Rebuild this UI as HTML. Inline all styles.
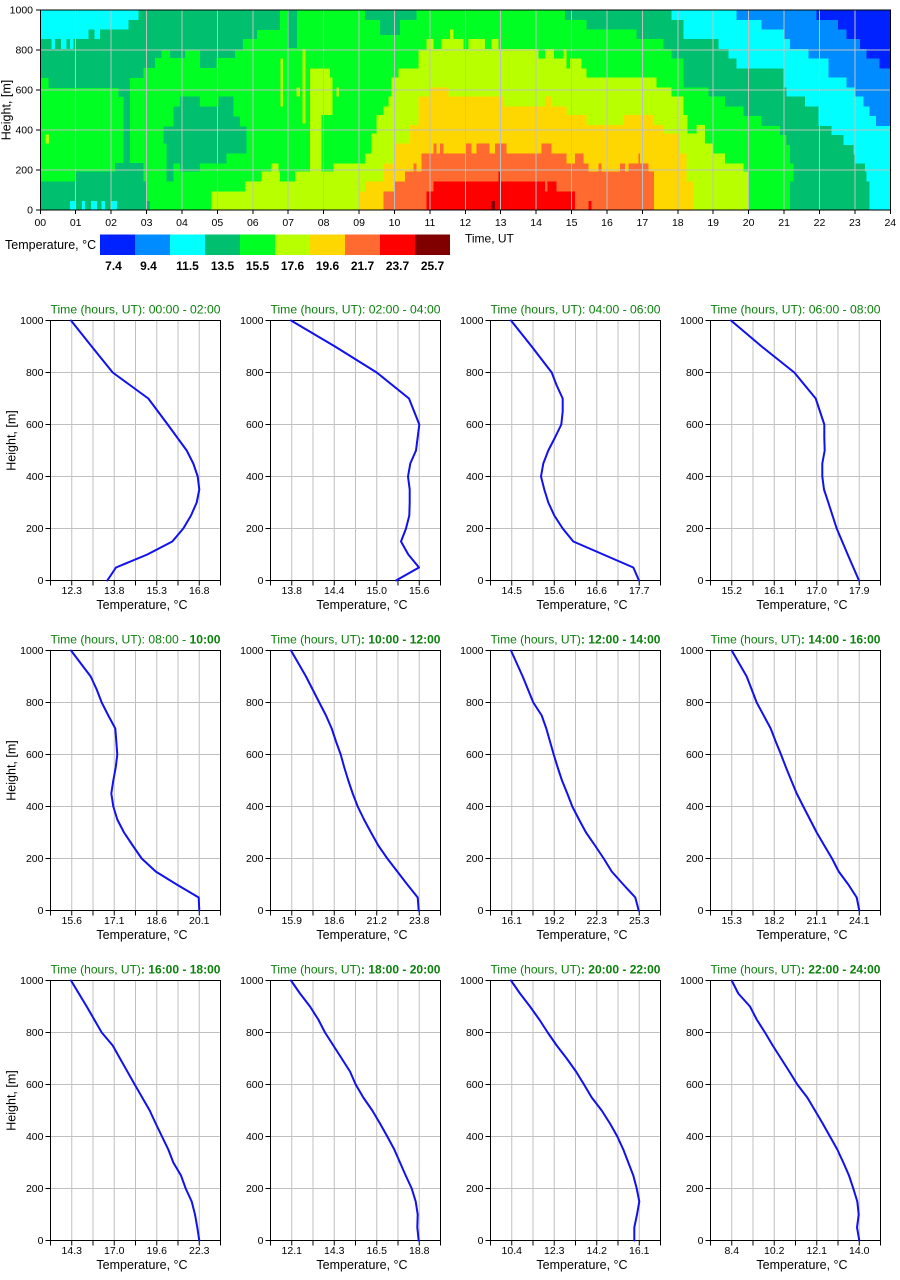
<!DOCTYPE html>
<html><head><meta charset="utf-8"><style>
html,body{margin:0;padding:0;background:#fff;}
svg{display:block;font-family:"Liberation Sans",Arial,sans-serif;}
</style></head><body>
<svg width="900" height="1280" viewBox="0 0 900 1280" xmlns="http://www.w3.org/2000/svg">
<rect width="900" height="1280" fill="#fff"/>
<defs>
<g id="fr">
<path d="M21.25 0V260M42.5 0V260M63.75 0V260M85 0V260M106.25 0V260M127.5 0V260M148.75 0V260M0 52H170M0 104H170M0 156H170M0 208H170" stroke="#c0c0c0" stroke-width="1" fill="none"/>
<rect x="0" y="0" width="170" height="260" fill="none" stroke="#000" stroke-width="1"/>
<path d="M0 260v5M21.25 260v5M42.5 260v5M63.75 260v5M85 260v5M106.25 260v5M127.5 260v5M148.75 260v5M170 260v5M-5 0H0M-5 52H0M-5 104H0M-5 156H0M-5 208H0M-5 260H0" stroke="#000" stroke-width="1" fill="none"/>
</g>
</defs>

<!-- ===== HEATMAP ===== -->
<g shape-rendering="crispEdges">
<rect x="40.3" y="10" width="850" height="200" fill="#00ff22"/>
<!-- teal -->
<g fill="#00c070">
<polygon points="40.3,10 280,10 280,30 257,30 257,39 243,39 243,50 235,50 235,58 216.7,58 216.7,68 200,68 200,50 185,50 185,58 170,58 170,50 161.7,50 161.7,58 155,58 155,68 143.3,68 143.3,78 130,78 130,163 123.3,163 123.3,97 118.3,97 118.3,88 48.3,88 48.3,78 40.3,78"/>
<polygon points="40.3,181.7 75,181.7 75,171.7 115,171.7 115,163 143.3,163 143.3,181.7 146.7,181.7 146.7,201 150,201 150,210 40.3,210"/>
<polygon points="163.3,126.7 173.3,126.7 173.3,106.7 180,106.7 180,96.7 200,96.7 200,106.7 218.3,106.7 218.3,96.7 233.3,96.7 233.3,116.7 240,116.7 240,126.7 246.7,126.7 246.7,153.3 226.7,153.3 226.7,163.3 200,163.3 200,171.7 180,171.7 180,163.3 173.3,163.3 173.3,181.7 166.7,181.7 166.7,143.3 163.3,143.3"/>
<rect x="287" y="10" width="10" height="38"/>
<rect x="365" y="10" width="51.7" height="10"/>
<rect x="380" y="20" width="20" height="15"/>
<polygon points="565,10 890,10 890,210 790,210 790,181.7 793.3,181.7 793.3,163.3 790,163.3 790,145 786.7,145 786.7,135 780,135 780,126 761.7,126 761.7,116 743.3,116 743.3,106.7 725,106.7 725,96.7 708.3,96.7 708.3,87.7 683.3,87.7 683.3,58.3 671.7,58.3 671.7,49 663.3,49 663.3,39 636.7,39 636.7,29.7 586.7,29.7 586.7,20 565,20"/>
</g>
<!-- cyan -->
<g fill="#00ffff">
<polygon points="40.3,10 138.3,10 138.3,20 128.3,20 128.3,29.7 88.3,29.7 88.3,39 40.3,39"/>
<rect x="51.7" y="39" width="3.3" height="10"/>
<rect x="61" y="39" width="5.7" height="10"/>
<rect x="70" y="39" width="3.3" height="10"/>
<rect x="94.3" y="29.7" width="5.7" height="9.3"/>
<rect x="70" y="201" width="5" height="9"/>
<rect x="82" y="201" width="3" height="9"/>
<rect x="91" y="201" width="6" height="9"/>
<rect x="101.7" y="201" width="3.3" height="9"/>
<rect x="111" y="201" width="6" height="9"/>
<polygon points="671.7,10 890,10 890,210 869.3,210 869.3,181.7 866.7,181.7 866.7,171.7 865,171.7 865,163.3 855,163.3 855,154.3 853.3,154.3 853.3,145 843.3,145 843.3,135 831.7,135 831.7,126 818.3,126 818.3,106.7 805,106.7 805,96.7 786.7,96.7 786.7,87.7 783.3,87.7 783.3,68.3 736.7,68.3 736.7,58.3 728.3,58.3 728.3,49 718.3,49 718.3,39 683.3,39 683.3,20 671.7,20"/>
</g>
<polygon fill="#008cff" points="736.7,10 890,10 890,126 876,126 876,116 869.3,116 869.3,106.7 863.3,106.7 863.3,96.7 855,96.7 855,87.7 846.7,87.7 846.7,77.7 828.3,77.7 828.3,58.3 808.3,58.3 808.3,49 790,49 790,39 783.3,39 783.3,29.7 761.7,29.7 761.7,20 736.7,20"/>
<polygon fill="#0022ff" points="816.7,10 890,10 890,68.3 879.3,68.3 879.3,58.3 866.7,58.3 866.7,49 860,49 860,39 846.7,39 846.7,29.7 838,29.7 838,20 816.7,20"/>
<!-- yellow-green -->
<g fill="#b8ff00">
<polygon points="211.7,210 211.7,191.7 245,191.7 245,181.7 261.7,181.7 261.7,171.7 271.7,171.7 271.7,163.3 278.3,163.3 278.3,171.7 280,171.7 280,181.7 295,181.7 295,171.7 333.3,171.7 333.3,163.3 365,163.3 365,153.3 371.7,153.3 371.7,133.3 376.7,133.3 376.7,115 383.3,115 383.3,106.7 388.3,106.7 388.3,96.7 391.7,96.7 391.7,77.7 398.3,77.7 398.3,68.3 418.3,68.3 418.3,50 426.7,50 426.7,39 433.3,39 433.3,49 441.7,49 441.7,39 463.3,39 463.3,49 468.3,49 468.3,39 485,39 485,49 491.7,49 491.7,39 498.3,39 498.3,49 538.3,49 538.3,58.3 545,58.3 545,49 554,49 554,58.3 563.3,58.3 563.3,49 566.7,49 566.7,68.3 570,68.3 570,58.3 581.7,58.3 581.7,68.3 586.7,68.3 586.7,77.7 656.7,77.7 656.7,87.7 671.7,87.7 671.7,96.7 683.3,96.7 683.3,115 687.3,115 687.3,133.3 696.7,133.3 696.7,125 705,125 705,143.3 713.3,143.3 713.3,153.3 725,153.3 725,163.3 743.3,163.3 743.3,171.7 748.3,171.7 748.3,210"/>
<rect x="310" y="68.3" width="11.7" height="141.7"/>
<rect x="321.7" y="68.3" width="8.3" height="46.7"/>
<rect x="280.5" y="58.3" width="2.5" height="48.4"/>
<rect x="296.7" y="87.7" width="3.3" height="9"/>
<rect x="302.7" y="49" width="2.6" height="74.3"/>
<rect x="330" y="77.7" width="2.7" height="37.3"/>
<rect x="336.7" y="87.7" width="2.3" height="9"/>
<rect x="450" y="29.7" width="3.3" height="9.3"/>
<rect x="45.7" y="134.5" width="3.3" height="8.8"/>
</g>
<polygon fill="#ffd700" points="358.3,210 358.3,191.7 365,191.7 365,181.7 383.3,181.7 383.3,163.3 395,163.3 395,143.3 410,143.3 410,125 418.3,125 418.3,96.7 430,96.7 430,87.7 448.3,87.7 448.3,96.7 503.3,96.7 503.3,106.7 545,106.7 545,96.7 551.7,96.7 551.7,106.7 566.7,106.7 566.7,115 586.7,115 586.7,125 623.3,125 623.3,115 653.3,115 653.3,125 663.3,125 663.3,133.3 680,133.3 680,153.3 686.7,153.3 686.7,181.7 693.3,181.7 693.3,210"/>
<polygon fill="#ff6a30" points="383.3,210 383.3,191.7 395,191.7 395,181.7 405,181.7 405,171.7 413.3,171.7 413.3,163.3 416.7,163.3 416.7,171.7 421.7,171.7 421.7,153.3 433.3,153.3 433.3,143.3 436.7,143.3 436.7,153.3 440,153.3 440,143.3 443.3,143.3 443.3,153.3 465,153.3 465,143.3 471.7,143.3 471.7,153.3 476.7,153.3 476.7,143.3 489.3,143.3 489.3,153.3 495,153.3 495,143.3 506.7,143.3 506.7,153.3 541.7,153.3 541.7,143.3 551.7,143.3 551.7,153.3 566.7,153.3 566.7,163.3 575,163.3 575,153.3 583.3,153.3 583.3,163.3 588.3,163.3 588.3,171.7 598.3,171.7 598.3,163.3 601.7,163.3 601.7,171.7 620,171.7 620,163.3 625,163.3 625,171.7 628.3,171.7 628.3,163.3 638.3,163.3 638.3,153.3 640,153.3 640,163.3 648.3,163.3 648.3,171.7 654,171.7 654,210"/>
<g fill="#ff0000">
<polygon points="426.7,210 426.7,191.7 433.3,191.7 433.3,181.7 498.3,181.7 498.3,171.7 500,171.7 500,181.7 545,181.7 545,191.7 547.7,191.7 547.7,181.7 556.7,181.7 556.7,191.7 575,191.7 575,210"/>
<rect x="588.3" y="201" width="3.3" height="9"/>
</g>
<rect x="491.7" y="201" width="3.3" height="9" fill="#800000"/>
<!-- grid -->
<path d="M75.7 10V210M111.1 10V210M146.6 10V210M182 10V210M217.4 10V210M252.8 10V210M288.2 10V210M323.6 10V210M359.1 10V210M394.5 10V210M429.9 10V210M465.3 10V210M500.7 10V210M536.1 10V210M571.6 10V210M607 10V210M642.4 10V210M677.8 10V210M713.2 10V210M748.6 10V210M784.1 10V210M819.5 10V210M854.9 10V210M40.3 50H890M40.3 90H890M40.3 130H890M40.3 170H890" stroke="#c0c0c0" stroke-width="1" fill="none"/>
<rect x="40.3" y="10" width="850" height="200" fill="none" stroke="#000" stroke-width="1"/>
<path d="M40.3 210v4M75.7 210v4M111.1 210v4M146.6 210v4M182 210v4M217.4 210v4M252.8 210v4M288.2 210v4M323.6 210v4M359.1 210v4M394.5 210v4M429.9 210v4M465.3 210v4M500.7 210v4M536.1 210v4M571.6 210v4M607 210v4M642.4 210v4M677.8 210v4M713.2 210v4M748.6 210v4M784.1 210v4M819.5 210v4M854.9 210v4M890.3 210v4M36 10H40M36 50H40M36 90H40M36 130H40M36 170H40M36 210H40" stroke="#000" stroke-width="1" fill="none"/>
</g>
<g font-size="10.5" fill="#000" text-anchor="end">
<text x="33" y="13.7">1000</text><text x="33" y="53.7">800</text><text x="33" y="93.7">600</text><text x="33" y="133.7">400</text><text x="33" y="173.7">200</text><text x="33" y="213.7">0</text>
</g>
<g font-size="10.5" fill="#000" text-anchor="middle">
<text x="40.3" y="226">00</text><text x="75.7" y="226">01</text><text x="111.1" y="226">02</text><text x="146.6" y="226">03</text><text x="182" y="226">04</text><text x="217.4" y="226">05</text><text x="252.8" y="226">06</text><text x="288.2" y="226">07</text><text x="323.6" y="226">08</text><text x="359.1" y="226">09</text><text x="394.5" y="226">10</text><text x="429.9" y="226">11</text><text x="465.3" y="226">12</text><text x="500.7" y="226">13</text><text x="536.1" y="226">14</text><text x="571.6" y="226">15</text><text x="607" y="226">16</text><text x="642.4" y="226">17</text><text x="677.8" y="226">18</text><text x="713.2" y="226">19</text><text x="748.6" y="226">20</text><text x="784.1" y="226">21</text><text x="819.5" y="226">22</text><text x="854.9" y="226">23</text><text x="890.3" y="226">24</text>
</g>
<text x="465" y="242.5" font-size="12">Time, UT</text>
<text transform="translate(10.5,110) rotate(-90)" font-size="12.5" text-anchor="middle">Height, [m]</text>

<!-- colorbar -->
<g shape-rendering="crispEdges">
<rect x="100" y="234.5" width="35" height="20.5" fill="#0022ff"/>
<rect x="135" y="234.5" width="35" height="20.5" fill="#008cff"/>
<rect x="170" y="234.5" width="35" height="20.5" fill="#00ffff"/>
<rect x="205" y="234.5" width="35" height="20.5" fill="#00c070"/>
<rect x="240" y="234.5" width="35" height="20.5" fill="#00ff22"/>
<rect x="275" y="234.5" width="35" height="20.5" fill="#b8ff00"/>
<rect x="310" y="234.5" width="35" height="20.5" fill="#ffd700"/>
<rect x="345" y="234.5" width="35" height="20.5" fill="#ff6a30"/>
<rect x="380" y="234.5" width="35" height="20.5" fill="#ff0000"/>
<rect x="415" y="234.5" width="35" height="20.5" fill="#800000"/>
</g>
<text x="5" y="249" font-size="12.5">Temperature, °C</text>
<g font-size="12" font-weight="bold" text-anchor="middle" fill="#000">
<text x="113.5" y="270">7.4</text><text x="148.5" y="270">9.4</text><text x="187.5" y="270">11.5</text><text x="222.5" y="270">13.5</text><text x="257.5" y="270">15.5</text><text x="292.5" y="270">17.6</text><text x="327.5" y="270">19.6</text><text x="362.5" y="270">21.7</text><text x="397.5" y="270">23.7</text><text x="432.5" y="270">25.7</text>
</g>

<!-- ===== SMALL CHARTS ===== -->
<!-- Row 0 -->
<g transform="translate(50.5,320.5)"><use href="#fr"/>
<g font-size="10.5" text-anchor="end"><text x="-7" y="3.7">1000</text><text x="-7" y="55.7">800</text><text x="-7" y="107.7">600</text><text x="-7" y="159.7">400</text><text x="-7" y="211.7">200</text><text x="-7" y="263.7">0</text></g>
<g font-size="10.5" text-anchor="middle"><text x="21.25" y="273.5">12.3</text><text x="63.75" y="273.5">13.8</text><text x="106.25" y="273.5">15.3</text><text x="148.75" y="273.5">16.8</text></g>
<text x="91.5" y="288.5" font-size="12.5" text-anchor="middle">Temperature, °C</text>
<text x="0" y="-7" font-size="12" fill="#0a800a" textLength="170" lengthAdjust="spacingAndGlyphs">Time (hours, UT): 00:00 - 02:00</text>
</g>
<g transform="translate(270.5,320.5)"><use href="#fr"/>
<g font-size="10.5" text-anchor="end"><text x="-7" y="3.7">1000</text><text x="-7" y="55.7">800</text><text x="-7" y="107.7">600</text><text x="-7" y="159.7">400</text><text x="-7" y="211.7">200</text><text x="-7" y="263.7">0</text></g>
<g font-size="10.5" text-anchor="middle"><text x="21.25" y="273.5">13.8</text><text x="63.75" y="273.5">14.4</text><text x="106.25" y="273.5">15.0</text><text x="148.75" y="273.5">15.6</text></g>
<text x="91.5" y="288.5" font-size="12.5" text-anchor="middle">Temperature, °C</text>
<text x="0" y="-7" font-size="12" fill="#0a800a" textLength="170" lengthAdjust="spacingAndGlyphs">Time (hours, UT): 02:00 - 04:00</text>
</g>
<g transform="translate(490.5,320.5)"><use href="#fr"/>
<g font-size="10.5" text-anchor="end"><text x="-7" y="3.7">1000</text><text x="-7" y="55.7">800</text><text x="-7" y="107.7">600</text><text x="-7" y="159.7">400</text><text x="-7" y="211.7">200</text><text x="-7" y="263.7">0</text></g>
<g font-size="10.5" text-anchor="middle"><text x="21.25" y="273.5">14.5</text><text x="63.75" y="273.5">15.6</text><text x="106.25" y="273.5">16.6</text><text x="148.75" y="273.5">17.7</text></g>
<text x="91.5" y="288.5" font-size="12.5" text-anchor="middle">Temperature, °C</text>
<text x="0" y="-7" font-size="12" fill="#0a800a" textLength="170" lengthAdjust="spacingAndGlyphs">Time (hours, UT): 04:00 - 06:00</text>
</g>
<g transform="translate(710.5,320.5)"><use href="#fr"/>
<g font-size="10.5" text-anchor="end"><text x="-7" y="3.7">1000</text><text x="-7" y="55.7">800</text><text x="-7" y="107.7">600</text><text x="-7" y="159.7">400</text><text x="-7" y="211.7">200</text><text x="-7" y="263.7">0</text></g>
<g font-size="10.5" text-anchor="middle"><text x="21.25" y="273.5">15.2</text><text x="63.75" y="273.5">16.1</text><text x="106.25" y="273.5">17.0</text><text x="148.75" y="273.5">17.9</text></g>
<text x="91.5" y="288.5" font-size="12.5" text-anchor="middle">Temperature, °C</text>
<text x="0" y="-7" font-size="12" fill="#0a800a" textLength="170" lengthAdjust="spacingAndGlyphs">Time (hours, UT): 06:00 - 08:00</text>
</g>

<!-- Row 1 -->
<g transform="translate(50.5,650.5)"><use href="#fr"/>
<g font-size="10.5" text-anchor="end"><text x="-7" y="3.7">1000</text><text x="-7" y="55.7">800</text><text x="-7" y="107.7">600</text><text x="-7" y="159.7">400</text><text x="-7" y="211.7">200</text><text x="-7" y="263.7">0</text></g>
<g font-size="10.5" text-anchor="middle"><text x="21.25" y="273.5">15.6</text><text x="63.75" y="273.5">17.1</text><text x="106.25" y="273.5">18.6</text><text x="148.75" y="273.5">20.1</text></g>
<text x="91.5" y="288.5" font-size="12.5" text-anchor="middle">Temperature, °C</text>
<text x="0" y="-7" font-size="12" fill="#0a800a" textLength="170" lengthAdjust="spacingAndGlyphs">Time (hours, UT): 08:00 - <tspan font-weight="bold">10:00</tspan></text>
</g>
<g transform="translate(270.5,650.5)"><use href="#fr"/>
<g font-size="10.5" text-anchor="end"><text x="-7" y="3.7">1000</text><text x="-7" y="55.7">800</text><text x="-7" y="107.7">600</text><text x="-7" y="159.7">400</text><text x="-7" y="211.7">200</text><text x="-7" y="263.7">0</text></g>
<g font-size="10.5" text-anchor="middle"><text x="21.25" y="273.5">15.9</text><text x="63.75" y="273.5">18.6</text><text x="106.25" y="273.5">21.2</text><text x="148.75" y="273.5">23.8</text></g>
<text x="91.5" y="288.5" font-size="12.5" text-anchor="middle">Temperature, °C</text>
<text x="0" y="-7" font-size="12" fill="#0a800a" textLength="170" lengthAdjust="spacingAndGlyphs">Time (hours, UT)<tspan font-weight="bold">: 10:00 - 12:00</tspan></text>
</g>
<g transform="translate(490.5,650.5)"><use href="#fr"/>
<g font-size="10.5" text-anchor="end"><text x="-7" y="3.7">1000</text><text x="-7" y="55.7">800</text><text x="-7" y="107.7">600</text><text x="-7" y="159.7">400</text><text x="-7" y="211.7">200</text><text x="-7" y="263.7">0</text></g>
<g font-size="10.5" text-anchor="middle"><text x="21.25" y="273.5">16.1</text><text x="63.75" y="273.5">19.2</text><text x="106.25" y="273.5">22.3</text><text x="148.75" y="273.5">25.3</text></g>
<text x="91.5" y="288.5" font-size="12.5" text-anchor="middle">Temperature, °C</text>
<text x="0" y="-7" font-size="12" fill="#0a800a" textLength="170" lengthAdjust="spacingAndGlyphs">Time (hours, UT)<tspan font-weight="bold">: 12:00 - 14:00</tspan></text>
</g>
<g transform="translate(710.5,650.5)"><use href="#fr"/>
<g font-size="10.5" text-anchor="end"><text x="-7" y="3.7">1000</text><text x="-7" y="55.7">800</text><text x="-7" y="107.7">600</text><text x="-7" y="159.7">400</text><text x="-7" y="211.7">200</text><text x="-7" y="263.7">0</text></g>
<g font-size="10.5" text-anchor="middle"><text x="21.25" y="273.5">15.3</text><text x="63.75" y="273.5">18.2</text><text x="106.25" y="273.5">21.1</text><text x="148.75" y="273.5">24.1</text></g>
<text x="91.5" y="288.5" font-size="12.5" text-anchor="middle">Temperature, °C</text>
<text x="0" y="-7" font-size="12" fill="#0a800a" textLength="170" lengthAdjust="spacingAndGlyphs">Time (hours, UT)<tspan font-weight="bold">: 14:00 - 16:00</tspan></text>
</g>

<!-- Row 2 -->
<g transform="translate(50.5,980.5)"><use href="#fr"/>
<g font-size="10.5" text-anchor="end"><text x="-7" y="3.7">1000</text><text x="-7" y="55.7">800</text><text x="-7" y="107.7">600</text><text x="-7" y="159.7">400</text><text x="-7" y="211.7">200</text><text x="-7" y="263.7">0</text></g>
<g font-size="10.5" text-anchor="middle"><text x="21.25" y="273.5">14.3</text><text x="63.75" y="273.5">17.0</text><text x="106.25" y="273.5">19.6</text><text x="148.75" y="273.5">22.3</text></g>
<text x="91.5" y="288.5" font-size="12.5" text-anchor="middle">Temperature, °C</text>
<text x="0" y="-7" font-size="12" fill="#0a800a" textLength="170" lengthAdjust="spacingAndGlyphs">Time (hours, UT)<tspan font-weight="bold">: 16:00 - 18:00</tspan></text>
</g>
<g transform="translate(270.5,980.5)"><use href="#fr"/>
<g font-size="10.5" text-anchor="end"><text x="-7" y="3.7">1000</text><text x="-7" y="55.7">800</text><text x="-7" y="107.7">600</text><text x="-7" y="159.7">400</text><text x="-7" y="211.7">200</text><text x="-7" y="263.7">0</text></g>
<g font-size="10.5" text-anchor="middle"><text x="21.25" y="273.5">12.1</text><text x="63.75" y="273.5">14.3</text><text x="106.25" y="273.5">16.5</text><text x="148.75" y="273.5">18.8</text></g>
<text x="91.5" y="288.5" font-size="12.5" text-anchor="middle">Temperature, °C</text>
<text x="0" y="-7" font-size="12" fill="#0a800a" textLength="170" lengthAdjust="spacingAndGlyphs">Time (hours, UT)<tspan font-weight="bold">: 18:00 - 20:00</tspan></text>
</g>
<g transform="translate(490.5,980.5)"><use href="#fr"/>
<g font-size="10.5" text-anchor="end"><text x="-7" y="3.7">1000</text><text x="-7" y="55.7">800</text><text x="-7" y="107.7">600</text><text x="-7" y="159.7">400</text><text x="-7" y="211.7">200</text><text x="-7" y="263.7">0</text></g>
<g font-size="10.5" text-anchor="middle"><text x="21.25" y="273.5">10.4</text><text x="63.75" y="273.5">12.3</text><text x="106.25" y="273.5">14.2</text><text x="148.75" y="273.5">16.1</text></g>
<text x="91.5" y="288.5" font-size="12.5" text-anchor="middle">Temperature, °C</text>
<text x="0" y="-7" font-size="12" fill="#0a800a" textLength="170" lengthAdjust="spacingAndGlyphs">Time (hours, UT)<tspan font-weight="bold">: 20:00 - 22:00</tspan></text>
</g>
<g transform="translate(710.5,980.5)"><use href="#fr"/>
<g font-size="10.5" text-anchor="end"><text x="-7" y="3.7">1000</text><text x="-7" y="55.7">800</text><text x="-7" y="107.7">600</text><text x="-7" y="159.7">400</text><text x="-7" y="211.7">200</text><text x="-7" y="263.7">0</text></g>
<g font-size="10.5" text-anchor="middle"><text x="21.25" y="273.5">8.4</text><text x="63.75" y="273.5">10.2</text><text x="106.25" y="273.5">12.1</text><text x="148.75" y="273.5">14.0</text></g>
<text x="91.5" y="288.5" font-size="12.5" text-anchor="middle">Temperature, °C</text>
<text x="0" y="-7" font-size="12" fill="#0a800a" textLength="170" lengthAdjust="spacingAndGlyphs">Time (hours, UT)<tspan font-weight="bold">: 22:00 - 24:00</tspan></text>
</g>

<!-- y axis labels -->
<g font-size="12.5" text-anchor="middle">
<text transform="translate(15.5,440.5) rotate(-90)">Height, [m]</text>
<text transform="translate(15.5,770.5) rotate(-90)">Height, [m]</text>
<text transform="translate(15.5,1100.5) rotate(-90)">Height, [m]</text>
</g>

<!-- profiles -->
<g fill="none" stroke="#1010f0" stroke-width="2" stroke-linejoin="round" stroke-linecap="round">
<polyline points="107.3,580.5 116,567.5 147.3,554.5 172.3,541.5 183.3,528.5 191,515.5 196.7,502.5 199.3,489.5 197.7,476.5 193.3,463.5 186.7,450.5 167.7,424.5 148.3,398.5 112.7,372.5 91.7,346.5 71,320.5"/>
<polyline points="396,580.5 419,567.5 408.3,554.5 401,541.5 406,528.5 409.3,515.5 409.7,502.5 409.7,489.5 408,476.5 410.3,463.5 416,450.5 419.3,424.5 409,398.5 376.7,372.5 335,346.5 291,320.5"/>
<polyline points="639,580.5 633.3,567.5 603.3,554.5 573.3,541.5 562.7,528.5 554.3,515.5 548.3,502.5 544.3,489.5 541,476.5 543.3,463.5 548.3,450.5 555,437.5 561.3,424.5 562.7,411.5 562.7,398.5 556.7,385.5 551.7,372.5 531.7,346.5 511,320.5"/>
<polyline points="859,580.5 847.7,554.5 836.7,528.5 828.3,502.5 824,489.5 822.3,476.5 822.3,463.5 824.7,450.5 824.3,437.5 824.3,424.5 815.7,398.5 794.3,372.5 761.7,346.5 731,320.5"/>
<polyline points="199.3,910.5 198.7,897.5 176.7,884.5 155.7,871.5 141.7,858.5 132.7,845.5 124,832.5 117.3,819.5 113.3,806.5 111.3,793.5 113.3,780.5 115.7,767.5 117.3,754.5 116.3,741.5 115.3,728.5 108.3,715.5 101.7,702.5 96.7,689.5 90.7,676.5 71,650.5"/>
<polyline points="418.7,910.5 417.7,897.5 407.3,884.5 397.3,871.5 387.3,858.5 378.3,845.5 371,832.5 364,819.5 357.7,806.5 352.7,793.5 348.3,780.5 344.3,767.5 340.7,754.5 336,741.5 331.7,728.5 326,715.5 319.3,702.5 306,676.5 291,650.5"/>
<polyline points="638.7,910.5 635.3,897.5 623.3,884.5 611.7,871.5 603.7,858.5 595,845.5 586,832.5 579,819.5 572.3,806.5 567.3,793.5 562,780.5 557.7,767.5 553.7,754.5 550,741.5 546.3,728.5 541.7,715.5 533.3,702.5 522.7,676.5 511,650.5"/>
<polyline points="859.3,910.5 856.7,897.5 848.3,884.5 838.7,871.5 832,858.5 824.3,845.5 816.7,832.5 810,819.5 803.3,806.5 796.7,793.5 791.3,780.5 786,767.5 781,754.5 775.7,741.5 770.7,728.5 756.7,702.5 751.7,689.5 746.7,676.5 731.7,650.5"/>
<polyline points="199.3,1240.5 197.3,1227.5 195,1214.5 191.7,1201.5 185.7,1188.5 181,1175.5 173.3,1162.5 168.3,1149.5 162,1136.5 155.7,1123.5 149.7,1110.5 134.7,1084.5 120,1058.5 112.7,1045.5 101.7,1032.5 86.7,1006.5 71,980.5"/>
<polyline points="418.7,1240.5 417.3,1227.5 417.7,1214.5 415.7,1201.5 411.7,1188.5 405.7,1175.5 400,1162.5 394.3,1149.5 387.3,1136.5 380,1123.5 372.3,1110.5 363.3,1097.5 355.7,1084.5 350,1071.5 341.7,1058.5 325,1032.5 318.3,1019.5 310,1006.5 300,993.5 291,980.5"/>
<polyline points="634.3,1240.5 634.3,1227.5 637,1214.5 639.3,1201.5 636.7,1188.5 633.3,1175.5 628.3,1162.5 623.3,1149.5 617.3,1136.5 610,1123.5 601.7,1110.5 591.7,1097.5 584,1084.5 576,1071.5 566.7,1058.5 556.7,1045.5 547.7,1032.5 539.3,1019.5 530,1006.5 520,993.5 511,980.5"/>
<polyline points="859.3,1240.5 857,1227.5 858.7,1214.5 857.3,1201.5 853.3,1188.5 849,1175.5 843.3,1162.5 837.3,1149.5 830,1136.5 822.7,1123.5 815,1110.5 807.3,1097.5 797.3,1084.5 789.3,1071.5 781,1058.5 772.7,1045.5 765,1032.5 756.7,1019.5 750,1006.5 738.3,993.5 731.7,980.5"/>
</g>
</svg>
</body></html>
